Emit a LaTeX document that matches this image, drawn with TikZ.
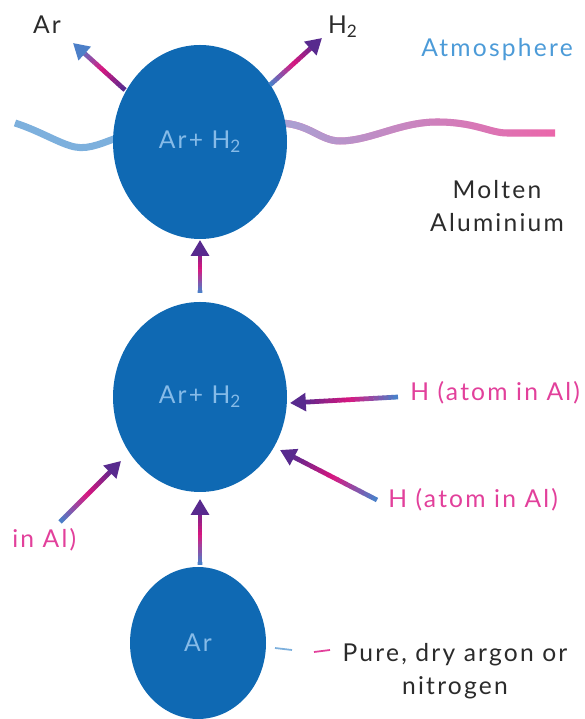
\documentclass[tikz,border=0pt]{standalone}
\usepackage{fontspec}
\setmainfont{Lato}[LetterSpace=9]
\usepackage{tikz}
\usetikzlibrary{shapes.geometric,calc,arrows.meta,fadings}

\definecolor{bubble}{HTML}{0F69B3}
\definecolor{bubbletext}{HTML}{86BBE8}
\definecolor{arrowmag}{HTML}{E0147E}
\definecolor{arrowblue}{HTML}{4C7FC8}
\definecolor{arrowpurple}{HTML}{582A8E}
\definecolor{labelpink}{HTML}{E2409B}
\definecolor{atmoblue}{HTML}{4C9BD8}
\definecolor{inkgrey}{HTML}{2B2B2B}
\definecolor{wavelav}{HTML}{A9A2D4}
\definecolor{wavepink}{HTML}{EC66AA}
\definecolor{waveblue}{HTML}{7DB0DD}

\tikzfading[name=wavefade, left color=transparent!0, right color=transparent!100]

% arrow from #1 to #2, tail colour #3, head colour #4, magenta in between
\newcommand{\flowarrow}[4]{%
  \foreach \i in {0,...,19} {
    \pgfmathsetmacro{\ta}{0.045*\i}
    \pgfmathsetmacro{\tb}{0.045*(\i+1)+0.004}
    \pgfmathtruncatemacro{\p}{\i<10 ? 100-10*\i : 0}
    \pgfmathtruncatemacro{\q}{\i<10 ? 0 : 10*(\i-9)}
    \colorlet{segcol}{#3!\p!arrowmag}
    \ifnum\i>9 \colorlet{segcol}{#4!\q!arrowmag}\fi
    \draw[segcol, line width=2.7pt] ($(#1)!\ta!(#2)$) -- ($(#1)!\tb!(#2)$);
  }
  \draw[#4, line width=2.7pt, -{Triangle[length=9pt,width=10pt]}]
    ($(#1)!0.9!(#2)$) -- (#2);
}

\tikzset{
  bubblenode/.style={ellipse, fill=bubble, inner sep=0pt, text=bubbletext, font=\fontsize{14}{16}\selectfont},
  hlabel/.style={text=labelpink, font=\fontsize{14}{16}\selectfont, inner sep=0pt},
  plainlabel/.style={text=inkgrey, font=\fontsize{14}{16}\selectfont, inner sep=0pt, align=center}
}

\begin{document}
\begin{tikzpicture}
\useasboundingbox (0,0) rectangle (11.7,14.38);

% surface of the melt
\draw[waveblue, line width=4pt] (0.3,11.92) .. controls (0.8,11.76) and (1.2,11.5) .. (1.5,11.44)
  .. controls (1.8,11.38) and (2.1,11.55) .. (2.4,11.64);
\draw[wavepink, line width=4pt] (5.6,11.92) .. controls (6.2,11.9) and (6.4,11.56) .. (6.8,11.56)
  .. controls (7.4,11.56) and (8.0,11.94) .. (8.74,11.94)
  .. controls (9.5,11.94) and (9.8,11.72) .. (10.14,11.72) -- (11.1,11.72);
\draw[wavelav, line width=4pt, path fading=wavefade] (5.6,11.92) .. controls (6.2,11.9) and (6.4,11.56) .. (6.8,11.56)
  .. controls (7.4,11.56) and (8.0,11.94) .. (8.74,11.94)
  .. controls (9.5,11.94) and (9.8,11.72) .. (10.14,11.72) -- (11.1,11.72);

% bubbles
\node[bubblenode, minimum width=3.48cm, minimum height=3.88cm] (top) at (4.0,11.54) {Ar+ H\textsubscript{2}};
\node[bubblenode, minimum width=3.48cm, minimum height=3.8cm] (mid) at (4.0,6.44) {Ar+ H\textsubscript{2}};
\node[bubblenode, minimum width=2.72cm, minimum height=3.04cm] (bot) at (3.96,1.52) {Ar};

% labels
\node[plainlabel] (ar) at (0.94,13.88) {Ar};
\node[plainlabel] (htwo) at (6.86,13.84) {H\textsubscript{2}};
\node[text=atmoblue, font=\fontsize{14}{16}\selectfont, inner sep=0pt] (atmo) at (9.94,13.38) {Atmosphere};
\node[plainlabel, font=\fontsize{14}{19}\selectfont] (melt) at (9.94,10.26) {Molten\\Aluminium};
\node[hlabel, anchor=west] (hone) at (8.2,6.52) {H (atom in Al)};
\node[hlabel, anchor=west] (htwoatom) at (7.76,4.38) {H (atom in Al)};
\node[hlabel, anchor=west] (hthree) at (0.24,3.58) {in Al)};
\node[plainlabel, font=\fontsize{14}{19}\selectfont] (gas) at (9.1,0.96) {Pure, dry argon or\\nitrogen};

% arrow ends
\coordinate (arout) at (2.5,12.58);
\coordinate (artip) at (1.46,13.52);
\coordinate (htwoout) at (5.4,12.68);
\coordinate (htwotip) at (6.44,13.62);
\coordinate (midup) at (4.0,8.52);
\coordinate (toptip) at (4.0,9.58);
\coordinate (honeout) at (7.96,6.44);
\coordinate (honetip) at (5.8,6.32);
\coordinate (htwoatomout) at (7.54,4.38);
\coordinate (htwoatomtip) at (5.6,5.38);
\coordinate (hthreeout) at (1.2,3.94);
\coordinate (hthreetip) at (2.42,5.16);
\coordinate (botup) at (4.0,3.08);
\coordinate (midtip) at (4.0,4.4);

\flowarrow{arout}{artip}{arrowpurple}{arrowblue}
\flowarrow{htwoout}{htwotip}{arrowblue}{arrowpurple}
\flowarrow{midup}{toptip}{arrowblue}{arrowpurple}
\flowarrow{honeout}{honetip}{arrowblue}{arrowpurple}
\flowarrow{htwoatomout}{htwoatomtip}{arrowblue}{arrowpurple}
\flowarrow{hthreeout}{hthreetip}{arrowblue}{arrowpurple}
\flowarrow{botup}{midtip}{arrowblue}{arrowpurple}

% gas marker
\draw[waveblue, line width=1pt] (5.5,1.42) -- (5.84,1.38);
\draw[labelpink, line width=1pt] (6.28,1.34) -- (6.6,1.38);

\end{tikzpicture}
\end{document}
